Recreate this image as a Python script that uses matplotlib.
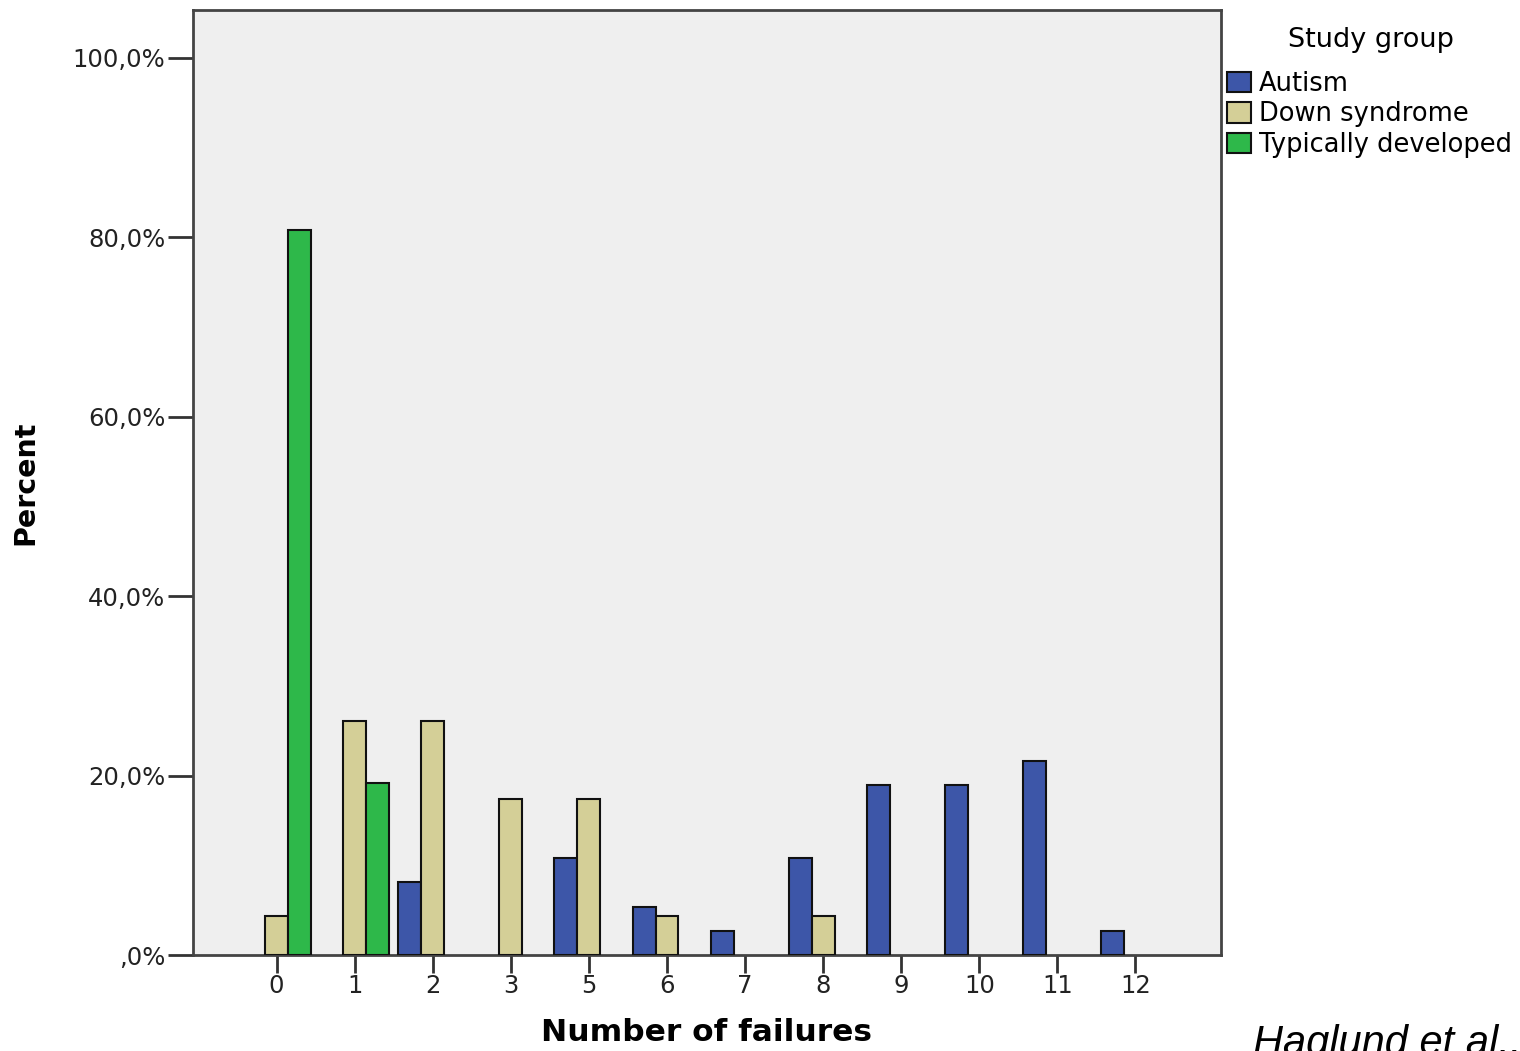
import numpy as np
import matplotlib
matplotlib.use('Agg')
import matplotlib.pyplot as plt
from matplotlib.patches import Patch

failures = ['0', '1', '2', '3', '5', '6', '7', '8', '9', '10', '11', '12']
autism = [0, 0, 8.1, 0, 10.8, 5.4, 2.7, 10.8, 18.9, 18.9, 21.6, 2.7]
down = [4.3, 26.1, 26.1, 17.4, 17.4, 4.3, 0, 4.3, 0, 0, 0, 0]
typical = [80.8, 19.2, 0, 0, 0, 0, 0, 0, 0, 0, 0, 0]
groups = ['Autism', 'Down syndrome', 'Typically developed']
colors = ['#3d56a8', '#d4cf97', '#2eb84a']

plt.rcParams['font.family'] = 'DejaVu Sans'

fig = plt.figure(figsize=(15.2, 10.51), dpi=100)
ax = fig.add_axes([0.127, 0.0913, 0.676, 0.8992])
ax.set_facecolor('#efefef')

x = np.arange(len(failures))
w = 0.294
for vals, off, c in zip([autism, down, typical], [-w, 0, w], colors):
    vals = np.array(vals)
    m = vals > 0
    ax.bar(x[m] + off, vals[m], width=w, color=c, edgecolor='#111111', linewidth=1.5, zorder=3)

ax.set_xlim(-1.07, 12.09)
ax.set_ylim(0, 105.3)
ax.set_xticks(x)
ax.set_xticklabels(failures, fontsize=17.5, color='#222222')
ax.set_yticks([0, 20, 40, 60, 80, 100])
ax.set_yticklabels([',0%', '20,0%', '40,0%', '60,0%', '80,0%', '100,0%'], fontsize=17.5, color='#222222')
ax.tick_params(axis='x', length=13, width=2, color='#333333', pad=1)
ax.tick_params(axis='y', length=18, width=2, color='#333333', pad=2)
for s in ax.spines.values():
    s.set_color('#444444')
    s.set_linewidth(2)

ax.set_xlabel('Number of failures', fontsize=22.5, fontweight='bold', labelpad=14)
ax.set_ylabel('Percent', fontsize=20.5, fontweight='bold', labelpad=24)

# legend: title drawn separately so it can sit a bit apart from the entries
fig.text(1371 / 1520, 1 - 40 / 1051, 'Study group', fontsize=19.5, ha='center', va='center')
handles = [Patch(facecolor=c, edgecolor='#111111', linewidth=1.5) for c in colors]
fig.legend(handles, groups, loc='upper left', bbox_to_anchor=(1227 / 1520, 1 - 71 / 1051),
           frameon=False, fontsize=18.5, handlelength=0.95, handleheight=0.85,
           handletextpad=0.3, labelspacing=0.17, borderaxespad=0, borderpad=0)

fig.text(1253 / 1520, -0.004, 'Haglund et al..', fontsize=30, style='italic',
         family='Liberation Sans', va='baseline', ha='left')

fig.savefig('out.png', dpi=100)
